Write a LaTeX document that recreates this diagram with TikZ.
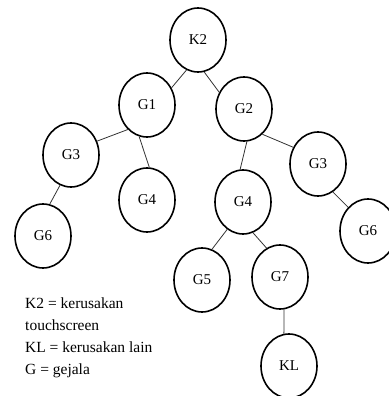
\documentclass[tikz,border=0pt]{standalone}
\usepackage{fontspec}
\setmainfont{Liberation Serif}
\usetikzlibrary{shapes.geometric}
\begin{document}
\begin{tikzpicture}[x=1pt,y=-1pt,
  tnode/.style={draw,ellipse,line width=1.6pt,minimum width=56pt,minimum height=64pt,inner sep=0pt,font=\fontsize{15}{17}\selectfont},
  edge/.style={line width=0.8pt,draw=black!80},
  legend/.style={anchor=base west,inner sep=0pt,font=\fontsize{15.5}{18}\selectfont}]
\useasboundingbox (0,0) rectangle (388,396);
\node[tnode] (K2) at (198,40) {K2};
\node[tnode] (G1) at (147,105) {G1};
\node[tnode] (G2) at (244,109) {G2};
\node[tnode] (G3a) at (71,155) {G3};
\node[tnode] (G3b) at (318,164) {G3};
\node[tnode] (G4a) at (147,200) {G4};
\node[tnode] (G4b) at (243,202) {G4};
\node[tnode] (G6a) at (43,236) {G6};
\node[tnode] (G6b) at (368,231) {G6};
\node[tnode] (G5) at (202,280) {G5};
\node[tnode] (G7) at (280,277) {G7};
\node[tnode] (KL) at (289,366) {KL};
\draw[edge] (K2.249) -- (G1.35);
\draw[edge] (K2.281) -- (G2.146);
\draw[edge] (G1.232) -- (G3a.28);
\draw[edge] (G1.256) -- (G4a.86);
\draw[edge] (G2.275) -- (G4b.95);
\draw[edge] (G2.306) -- (G3b.146);
\draw[edge] (G3a.250) -- (G6a.78);
\draw[edge] (G3b.298) -- (G6b.130);
\draw[edge] (G4b.240) -- (G5.72);
\draw[edge] (G4b.288) -- (G7.115);
\draw[edge] (G7.277) -- (KL.99);
\node[legend] (L1) at (25,308) {K2 = kerusakan};
\node[legend] (L2) at (25,330) {touchscreen};
\node[legend] (L3) at (25,352) {KL = kerusakan lain};
\node[legend] (L4) at (25,374) {G = gejala};
\end{tikzpicture}
\end{document}
